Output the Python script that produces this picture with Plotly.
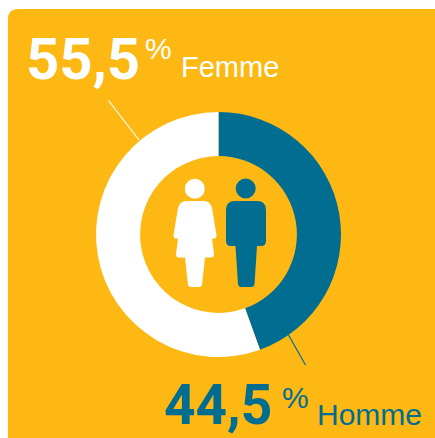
import plotly.graph_objects as go

labels = ["Homme", "Femme"]
values = [44.5, 55.5]
value_texts = ["44,5", "55,5"]
colors = ["#006d91", "#ffffff"]
ORANGE = "#fdb813"
W, H = 435, 438

fig = go.Figure()
cx, cy, r = 218.5, 234.5, 122.5
fig.add_trace(go.Pie(
    labels=labels, values=values, hole=0.64, sort=False, direction="clockwise", rotation=0,
    marker=dict(colors=colors, line=dict(width=0)), textinfo="none", hoverinfo="none", showlegend=False,
    domain=dict(x=[(cx - r) / W, (cx + r) / W], y=[1 - (cy + r) / H, 1 - (cy - r) / H]),
))

def rect_path():
    rad = 10
    x0, y0, x1, y1 = 8, 9, 460, 460
    return (f"M{x0+rad},{y0} L{x1},{y0} L{x1},{y1} L{x0},{y1} "
            f"L{x0},{y0+rad} Q{x0},{y0} {x0+rad},{y0} Z")

woman = ("M186,201 L204,201 Q210,201 212,208 L216.5,235 Q216.5,238.5 214,238.5 L212,238.5 L214,254 Q214,257.5 211,257.5 "
         "L205,257.5 L202,285 Q201.5,287 199,287 L191,287 Q188.5,287 188,285 L185,257.5 L179,257.5 Q176,257.5 176,254 "
         "L178,238.5 L176,238.5 Q173.5,238.5 173.5,235 L178,208 Q180,201 186,201 Z")
man = ("M235,201 L257,201 Q266,201 266,210 L266,241 Q266,246 261,246 L257,246 L254.5,284 Q254,287 251,287 L241,287 "
       "Q238.5,287 238,284 L235.5,246 L231,246 Q226,246 226,241 L226,210 Q226,201 235,201 Z")

def circle(x, y, rad, col):
    return dict(type="circle", xref="x", yref="y", x0=x - rad, x1=x + rad, y0=y - rad, y1=y + rad,
                fillcolor=col, line_width=0, layer="above")

shapes = [
    dict(type="path", xref="x", yref="y", path=rect_path(), fillcolor=ORANGE, line_width=0, layer="below"),
    dict(type="line", xref="x", yref="y", x0=108.5, y0=100.5, x1=139, y1=140, line=dict(color="#ffffff", width=1.2), layer="below"),
    dict(type="line", xref="x", yref="y", x0=288.5, y0=335, x1=305.5, y1=365, line=dict(color=colors[0], width=1.2), layer="below"),
    dict(type="path", xref="x", yref="y", path=woman, fillcolor="#ffffff", line_width=0, layer="above"),
    dict(type="path", xref="x", yref="y", path=man, fillcolor=colors[0], line_width=0, layer="above"),
    circle(194.8, 188.8, 10, "#ffffff"),
    circle(245.7, 188.5, 10, colors[0]),
]

def txt(x, y, s, size, col, fam="Liberation Sans", weight=400):
    return dict(xref="x", yref="y", x=x, y=y, text=s, showarrow=False,
                xanchor="left", yanchor="middle", font=dict(family=fam, size=size, color=col, weight=weight))

annotations = [
    txt(24, 58.5, value_texts[1], 58, "#ffffff", "Roboto", 700),
    txt(143, 48, "%", 30, "#ffffff"),
    txt(178.5, 66.5, labels[1], 29, "#ffffff"),
    txt(162, 405, value_texts[0], 55, colors[0], "Roboto", 700),
    txt(279.5, 397, "%", 30, colors[0]),
    txt(314.5, 414.5, labels[0], 30, colors[0]),
]

fig.update_layout(
    width=W, height=H, margin=dict(l=0, r=0, t=0, b=0), paper_bgcolor="#ffffff", plot_bgcolor="rgba(0,0,0,0)",
    xaxis=dict(range=[0, W], visible=False, fixedrange=True),
    yaxis=dict(range=[H, 0], visible=False, fixedrange=True),
    shapes=shapes, annotations=annotations, showlegend=False,
)
fig.write_html("out.html", config=dict(displayModeBar=False),
               post_script="document.body.style.margin='0';document.body.style.overflow='hidden';")
